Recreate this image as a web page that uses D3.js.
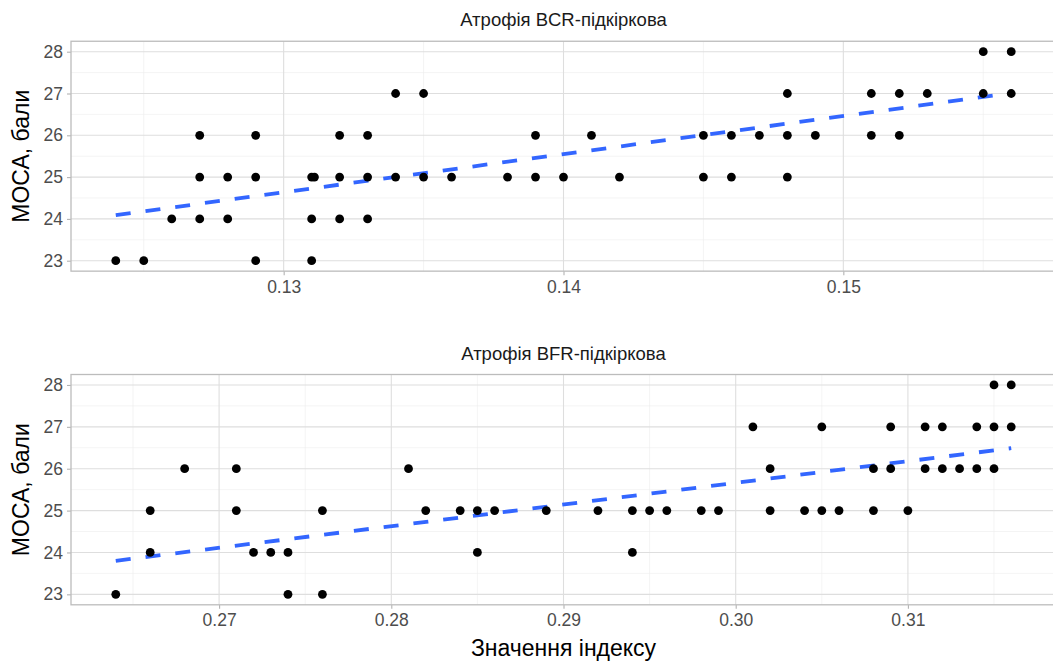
<!DOCTYPE html>
<html>
<head>
<meta charset="utf-8">
<script src="https://cdn.jsdelivr.net/npm/d3@7"></script>
<style>
  body { margin: 0; background: #fff; }
  svg { display: block; font-family: "Liberation Sans", Arial, sans-serif; }
</style>
</head>
<body>
<svg id="chart" width="1053" height="661"></svg>
<script>
// Panneau du haut : BCR
const bcrX = [0.124, 0.125, 0.126, 0.127, 0.127, 0.127, 0.128, 0.128, 0.129, 0.129, 0.129,
  0.131, 0.131, 0.131, 0.1311, 0.132, 0.132, 0.132, 0.133, 0.133, 0.133, 0.134, 0.134,
  0.135, 0.135, 0.136, 0.138, 0.139, 0.139, 0.140, 0.141, 0.142, 0.145, 0.145, 0.146, 0.146,
  0.147, 0.148, 0.148, 0.148, 0.149, 0.151, 0.151, 0.152, 0.152, 0.153, 0.155, 0.155, 0.156, 0.156];
const bcrY = [23, 23, 24, 26, 25, 24, 25, 24, 26, 25, 23,
  25, 24, 23, 25, 26, 25, 24, 26, 25, 24, 27, 25,
  27, 25, 25, 25, 26, 25, 25, 26, 25, 26, 25, 26, 25,
  26, 27, 26, 25, 26, 27, 26, 27, 26, 27, 28, 27, 28, 27];
const bcrFitX = [0.124, 0.156];
const bcrFitY = [24.09, 27.01];
const bcrTicks = [0.13, 0.14, 0.15];
const bcrMinor = [0.125, 0.135, 0.145, 0.155];

// Panneau du bas : BFR
const bfrX = [0.264, 0.266, 0.266, 0.268, 0.271, 0.271, 0.272, 0.273, 0.274, 0.274, 0.276, 0.276,
  0.281, 0.282, 0.284, 0.285, 0.285, 0.286, 0.289, 0.292, 0.294, 0.294, 0.295, 0.296, 0.298, 0.299,
  0.301, 0.302, 0.302, 0.304, 0.305, 0.305, 0.306, 0.308, 0.308, 0.309, 0.309, 0.310,
  0.311, 0.311, 0.312, 0.312, 0.313, 0.314, 0.314, 0.315, 0.315, 0.315, 0.316, 0.316];
const bfrY = [23, 25, 24, 26, 26, 25, 24, 24, 24, 23, 25, 23,
  26, 25, 25, 25, 24, 25, 25, 25, 25, 24, 25, 25, 25, 25,
  27, 26, 25, 25, 27, 25, 25, 26, 25, 27, 26, 25,
  27, 26, 27, 26, 26, 27, 26, 28, 27, 26, 28, 27];
const bfrFitX = [0.264, 0.316];
const bfrFitY = [23.80, 26.49];
const bfrTicks = [0.27, 0.28, 0.29, 0.30, 0.31];
const bfrMinor = [0.265, 0.275, 0.285, 0.295, 0.305, 0.315];

const yTicks = [23, 24, 25, 26, 27, 28];
const yMinor = [23.5, 24.5, 25.5, 26.5, 27.5];

const titres = ['Атрофія BCR-підкіркова', 'Атрофія BFR-підкіркова'];
const titreY = 'МОСА, бали';
const titreX = 'Значення індексу';

const svg = d3.select('#chart');
const gauche = 71, droite = 1056;

// ggplot : expansion de 5 % de chaque côté
function etendre(ext) {
  const d = ext[1] - ext[0];
  return [ext[0] - d * 0.05, ext[1] + d * 0.05];
}

function dessinerPanneau(xs, ys, fitX, fitY, ticks, minor, titre, haut, bas) {
  const g = svg.append('g');
  const x = d3.scaleLinear().domain(etendre(d3.extent(xs))).range([gauche, droite]);
  const y = d3.scaleLinear().domain(etendre(d3.extent(ys))).range([bas, haut]);

  // grille mineure
  g.selectAll('.vmin').data(minor).enter().append('line')
    .attr('x1', d => x(d)).attr('x2', d => x(d)).attr('y1', haut).attr('y2', bas)
    .attr('stroke', '#ececec').attr('stroke-width', 0.6);
  g.selectAll('.hmin').data(yMinor).enter().append('line')
    .attr('x1', gauche).attr('x2', droite).attr('y1', d => y(d)).attr('y2', d => y(d))
    .attr('stroke', '#ececec').attr('stroke-width', 0.6);
  // grille majeure
  g.selectAll('.vmaj').data(ticks).enter().append('line')
    .attr('x1', d => x(d)).attr('x2', d => x(d)).attr('y1', haut).attr('y2', bas)
    .attr('stroke', '#dedede').attr('stroke-width', 1.1);
  g.selectAll('.hmaj').data(yTicks).enter().append('line')
    .attr('x1', gauche).attr('x2', droite).attr('y1', d => y(d)).attr('y2', d => y(d))
    .attr('stroke', '#dedede').attr('stroke-width', 1.1);

  // axes
  const axeX = g.append('g').attr('transform', `translate(0,${bas})`)
    .call(d3.axisBottom(x).tickValues(ticks).tickFormat(d3.format('.2f')).tickSize(4).tickPadding(5));
  const axeY = g.append('g').attr('transform', `translate(${gauche},0)`)
    .call(d3.axisLeft(y).tickValues(yTicks).tickFormat(d3.format('d')).tickSize(4).tickPadding(4));
  [axeX, axeY].forEach(a => {
    a.select('.domain').remove();
    a.selectAll('.tick line').attr('stroke', '#b3b3b3').attr('stroke-width', 1.1);
    a.selectAll('.tick text').attr('fill', '#4d4d4d').style('font-size', '17.5px');
  });

  // bordure
  g.append('rect').attr('x', gauche).attr('y', haut)
    .attr('width', droite - gauche).attr('height', bas - haut)
    .attr('fill', 'none').attr('stroke', '#bcbcbc').attr('stroke-width', 1.3);

  // tendance
  const ligne = d3.line().x(d => x(d[0])).y(d => y(d[1]));
  g.append('path').datum(d3.zip(fitX, fitY)).attr('d', ligne)
    .attr('fill', 'none').attr('stroke', '#3366ff').attr('stroke-width', 3.8)
    .attr('stroke-dasharray', '15 15');

  // points
  g.selectAll('circle').data(d3.zip(xs, ys)).enter().append('circle')
    .attr('cx', d => x(d[0])).attr('cy', d => y(d[1])).attr('r', 4.4)
    .attr('fill', '#000');

  // titre du panneau
  svg.append('text').attr('x', (gauche + droite) / 2).attr('y', haut - 15)
    .attr('text-anchor', 'middle').attr('fill', '#1a1a1a').style('font-size', '18.5px')
    .text(titre);

  // titre de l'axe Y
  svg.append('text')
    .attr('transform', `translate(28.5,${(haut + bas) / 2}) rotate(-90)`)
    .attr('text-anchor', 'middle').attr('fill', '#000').style('font-size', '23px')
    .text(titreY);
}

dessinerPanneau(bcrX, bcrY, bcrFitX, bcrFitY, bcrTicks, bcrMinor, titres[0], 41.25, 271.15);
dessinerPanneau(bfrX, bfrY, bfrFitX, bfrFitY, bfrTicks, bfrMinor, titres[1], 374.5, 604.8);

svg.append('text').attr('x', (gauche + droite) / 2).attr('y', 656)
  .attr('text-anchor', 'middle').attr('fill', '#000').style('font-size', '23px')
  .text(titreX);
</script>
</body>
</html>
